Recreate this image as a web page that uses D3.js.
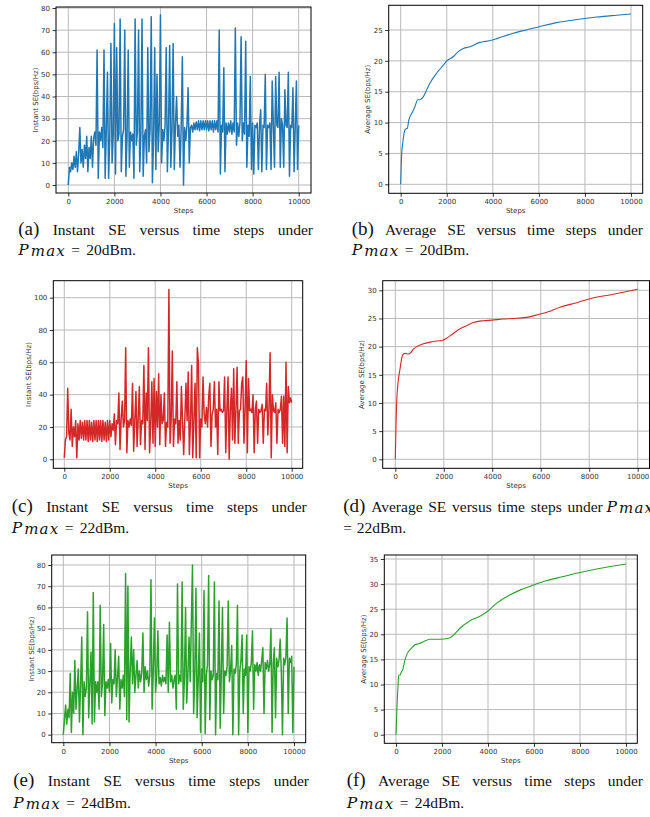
<!DOCTYPE html>
<html>
<head>
<meta charset="utf-8">
<script src="https://cdn.jsdelivr.net/npm/d3@7"></script>
<style>
  body { margin: 0; background: #fff; }
  .tick text { font-family: "DejaVu Sans", sans-serif; font-size: 7px; fill: #333; }
  .axis-label { font-family: "DejaVu Sans", sans-serif; font-size: 7px; fill: #333; }
  .cap { font-family: "Liberation Serif", "Times New Roman", serif; fill: #111; }
  .math { font-family: "DejaVu Serif", serif; font-style: italic; fill: #111; }
</style>
</head>
<body>
<svg id="fig" width="650" height="817"></svg>
<script>
// ---------------- data ----------------
// instant SE, one value every 50 steps, rows of 500 steps
const sampleEvery = 50;
const instantA = [
  0, 8, 6, 10, 7, 13, 8, 15, 6, 14,
  26, 10, 16, 8, 18, 12, 22, 6, 17, 12,
  22, 8, 21, 24, 18, 61, 3, 24, 20, 26,
  17, 61, 3, 25, 51, 3, 22, 64, 10, 23,
  73, 5, 62, 20, 23, 75, 6, 22, 25, 70,
  4, 22, 61, 8, 24, 20, 23, 3, 75, 18,
  24, 70, 6, 23, 75, 4, 22, 25, 10, 62,
  15, 25, 76, 1, 20, 62, 7, 50, 15, 28,
  77, 10, 25, 20, 27, 62, 6, 26, 63, 8,
  25, 64, 7, 27, 40, 22, 27, 8, 26, 58,
  0, 26, 20, 27, 44, 10, 26, 27, 24, 28,
  25, 28.5, 25, 29, 24.5, 29, 25, 29, 25, 29,
  25, 29, 24.5, 29, 25, 29, 24, 29, 25, 29,
  24, 70, 5, 27, 24, 53, 6, 28, 23, 28,
  24, 29, 23, 28, 24, 71, 18, 28, 22, 28,
  67, 20, 28, 23, 65, 8, 27, 22, 49, 7,
  28, 5, 27, 26, 28, 7, 27, 34, 6, 27,
  26, 50, 7, 27, 26, 28, 7, 47, 27, 8,
  49, 27, 26, 51, 8, 30, 27, 8, 43, 27,
  26, 51, 4, 27, 26, 44, 6, 27, 47, 7,
  27
];
const instantC = [
  1, 12, 14, 44, 16, 12, 31, 8, 20, 14,
  24, 1, 22, 12, 24, 13, 23, 12, 24, 12,
  24, 11, 24, 12, 23, 11, 24, 12, 24, 11,
  24, 12, 24, 11, 24, 12, 23, 11, 24, 12,
  24, 14, 22, 18, 28, 9, 24, 22, 41, 6,
  25, 36, 20, 24, 69, 4, 24, 20, 25, 21,
  47, 5, 24, 42, 8, 25, 45, 9, 24, 22,
  58, 6, 41, 24, 69, 4, 22, 48, 10, 50,
  8, 42, 20, 53, 9, 40, 22, 24, 41, 8,
  23, 20, 105, 10, 24, 67, 8, 25, 22, 48,
  10, 24, 12, 45, 24, 3, 25, 47, 24, 54,
  3, 24, 58, 1, 25, 47, 1, 69, 59, 1,
  25, 20, 51, 28, 22, 32, 20, 39, 47, 8,
  28, 31, 48, 20, 31, 3, 48, 30, 31, 29,
  30, 51, 4, 31, 51, 0, 30, 44, 12, 56,
  10, 31, 57, 10, 30, 31, 47, 51, 10, 31,
  61, 4, 50, 30, 31, 29, 40, 4, 31, 36,
  10, 31, 29, 30, 34, 10, 31, 30, 47, 15,
  31, 66, 1, 40, 30, 29, 35, 10, 31, 29,
  31, 39, 10, 39, 8, 60, 4, 45, 35, 38,
  35
];
const instantE = [
  0, 7, 14, 5, 12, 8, 29, 1, 20, 10,
  35, 12, 22, 31, 6, 24, 46, 0, 25, 18,
  22, 58, 8, 24, 39, 5, 67, 6, 25, 20,
  25, 12, 61, 18, 24, 52, 9, 25, 22, 26,
  20, 43, 15, 26, 24, 40, 18, 27, 37, 12,
  26, 22, 28, 18, 76, 7, 70, 6, 30, 46,
  24, 40, 20, 28, 35, 22, 30, 25, 29, 48,
  20, 32, 26, 30, 23, 28, 73, 12, 30, 55,
  20, 28, 49, 24, 27, 23, 28, 25, 27, 24,
  47, 20, 53, 25, 28, 22, 26, 28, 12, 71,
  24, 28, 25, 72, 12, 26, 60, 15, 28, 46,
  25, 53, 80, 10, 28, 69, 8, 26, 48, 1,
  31, 25, 68, 0.5, 28, 33, 75, 7, 30, 26,
  28, 72, 0, 29, 26, 63, 3, 30, 60, 10,
  30, 28, 32, 63, 25, 30, 42, 0, 31, 29,
  33, 61, 0, 30, 35, 47, 10, 31, 28, 47,
  1, 32, 30, 34, 49, 12, 33, 30, 34, 28,
  33, 30, 35, 41, 10, 34, 31, 35, 30, 33,
  50, 1, 34, 41, 8, 36, 32, 35, 45, 30,
  0, 36, 33, 37, 55, 10, 36, 34, 37, 1,
  32
];
const instantSteps = instantA.map((d, i) => i * sampleEvery);

// average SE
const avgStepsB = [0, 43, 87, 145, 200, 290, 350, 480, 620, 740, 840, 985, 1130, 1275, 1560, 1850, 2000, 2290, 2500, 2720, 3010, 3440, 3590, 3880, 4170, 4750, 5320, 5980, 6770, 7640, 8510, 9380, 10000];
const avgB = [0, 5.0, 6.6, 8.3, 8.9, 9.1, 10.4, 11.5, 12.6, 13.7, 13.7, 14.2, 15.3, 16.4, 18.0, 19.3, 20.0, 20.7, 21.5, 22.0, 22.3, 23.0, 23.1, 23.3, 23.6, 24.3, 24.9, 25.5, 26.2, 26.7, 27.1, 27.4, 27.6];
const avgStepsD = [0, 28, 55, 110, 190, 250, 300, 400, 540, 605, 740, 880, 1155, 1430, 1705, 1940, 2120, 2320, 2600, 2940, 3220, 3630, 3975, 4455, 4870, 5420, 5900, 6310, 6795, 7480, 8030, 9000, 10000];
const avgD = [0, 5.8, 9.9, 13.5, 15.9, 17.6, 18.5, 18.8, 18.7, 18.8, 19.5, 20.0, 20.5, 20.8, 21.0, 21.1, 21.5, 22.1, 23.0, 23.7, 24.3, 24.6, 24.7, 24.9, 25.0, 25.2, 25.7, 26.2, 27.0, 27.8, 28.5, 29.3, 30.2];
const avgStepsF = [0, 43, 87, 116, 174, 232, 290, 391, 493, 609, 826, 971, 1188, 1478, 1913, 2275, 2420, 2782, 3217, 3651, 4014, 4376, 4811, 5390, 5970, 6550, 7274, 7998, 8723, 10000];
const avgF = [0, 5.6, 9.6, 11.9, 11.9, 12.5, 12.9, 14.9, 16.2, 16.9, 17.9, 18.1, 18.5, 19.0, 19.0, 19.2, 19.5, 21.2, 22.7, 23.6, 24.7, 26.2, 27.5, 28.8, 29.8, 30.7, 31.5, 32.3, 33.0, 34.0];

// ticks
const xTicks = [0, 2000, 4000, 6000, 8000, 10000];
const yTicksA = [0, 10, 20, 30, 40, 50, 60, 70, 80];
const yTicksB = [0, 5, 10, 15, 20, 25];
const yTicksC = [0, 20, 40, 60, 80, 100];
const yTicksD = [0, 5, 10, 15, 20, 25, 30];
const yTicksE = [0, 10, 20, 30, 40, 50, 60, 70, 80];
const yTicksF = [0, 5, 10, 15, 20, 25, 30, 35];

const blue = "#1f77b4", red = "#d62728", green = "#2ca02c";
const instantLabel = "Instant SE(bps/Hz)";
const avgLabel = "Average SE(bps/Hz)";

// ---------------- layout ----------------
// px: pixel positions of x=0, x=10000, y=0, y=yRef and the axes frame
const panels = [
  { xs: instantSteps, ys: instantA, color: blue, lw: 1.5, yTicks: yTicksA, yRef: 80, ylab: instantLabel,
    px: { x0: 68.3, x10: 298.7, y0: 185, yR: 8, L: 56, R: 311, T: 7, B: 193 }, ylabX: 36 },
  { xs: avgStepsB, ys: avgB, color: blue, lw: 1.1, yTicks: yTicksB, yRef: 25, ylab: avgLabel, smooth: true,
    px: { x0: 400.7, x10: 631, y0: 184.3, yR: 30, L: 388.7, R: 642.7, T: 5.3, B: 193.3 }, ylabX: 368 },
  { xs: instantSteps, ys: instantC, color: red, lw: 1.5, yTicks: yTicksC, yRef: 100, ylab: instantLabel,
    px: { x0: 64.3, x10: 291.7, y0: 459.3, yR: 297.7, L: 53.3, R: 302.7, T: 280.7, B: 468.3 }, ylabX: 29 },
  { xs: avgStepsD, ys: avgD, color: red, lw: 1.1, yTicks: yTicksD, yRef: 30, ylab: avgLabel, smooth: true,
    px: { x0: 395.3, x10: 637.7, y0: 459.3, yR: 290.3, L: 382.7, R: 649.5, T: 280.7, B: 468.3 }, ylabX: 361.7 },
  { xs: instantSteps, ys: instantE, color: green, lw: 1.5, yTicks: yTicksE, yRef: 80, ylab: instantLabel,
    px: { x0: 63.3, x10: 294, y0: 734.7, yR: 565, L: 51.7, R: 305.7, T: 555, B: 742.7 }, ylabX: 31.7 },
  { xs: avgStepsF, ys: avgF, color: green, lw: 1.1, yTicks: yTicksF, yRef: 35, ylab: avgLabel, smooth: true,
    px: { x0: 396, x10: 626, y0: 734.7, yR: 559, L: 384.3, R: 637.3, T: 555, B: 743.3 }, ylabX: 363.3 }
];

const svg = d3.select("#fig");
svg.append("rect").attr("width", 650).attr("height", 817).attr("fill", "#fff");

function drawPanel(p) {
  const g = svg.append("g");
  const q = p.px;
  const x = d3.scaleLinear().domain([0, 10000]).range([q.x0, q.x10]);
  const y = d3.scaleLinear().domain([0, p.yRef]).range([q.y0, q.yR]);

  // grid
  g.append("g").selectAll("line").data(xTicks).join("line")
    .attr("x1", d => x(d)).attr("x2", d => x(d))
    .attr("y1", q.T).attr("y2", q.B)
    .attr("stroke", "#b9b9b9").attr("stroke-width", 1);
  g.append("g").selectAll("line").data(p.yTicks).join("line")
    .attr("x1", q.L).attr("x2", q.R)
    .attr("y1", d => y(d)).attr("y2", d => y(d))
    .attr("stroke", "#b9b9b9").attr("stroke-width", 1);

  // series
  const line = d3.line()
    .x(d => x(d[0]))
    .y(d => y(d[1]));
  if (p.smooth) line.curve(d3.curveMonotoneX);
  g.append("path")
    .datum(p.xs.map((s, i) => [s, p.ys[i]]))
    .attr("d", line)
    .attr("fill", "none")
    .attr("stroke", p.color)
    .attr("stroke-width", p.lw)
    .attr("stroke-linejoin", "round");

  // axes
  const xAxis = g.append("g")
    .attr("transform", `translate(0,${q.B})`)
    .call(d3.axisBottom(x).tickValues(xTicks).tickSize(3.5).tickPadding(2.5).tickFormat(d3.format("d")));
  const yAxis = g.append("g")
    .attr("transform", `translate(${q.L},0)`)
    .call(d3.axisLeft(y).tickValues(p.yTicks).tickSize(3.5).tickPadding(2.5).tickFormat(d3.format("d")));
  [xAxis, yAxis].forEach(a => {
    a.select(".domain").remove();
    a.selectAll(".tick line").attr("stroke", "#000").attr("stroke-width", 0.8);
    a.attr("font-size", null).attr("font-family", null);
  });

  // frame
  g.append("rect")
    .attr("x", q.L).attr("y", q.T)
    .attr("width", q.R - q.L).attr("height", q.B - q.T)
    .attr("fill", "none").attr("stroke", "#000").attr("stroke-width", 1);

  g.append("text").attr("class", "axis-label")
    .attr("x", (q.L + q.R) / 2).attr("y", q.B + 20)
    .attr("text-anchor", "middle").text("Steps");
  g.append("text").attr("class", "axis-label")
    .attr("transform", `translate(${p.ylabX},${(q.T + q.B) / 2}) rotate(-90)`)
    .attr("dy", "0.35em")
    .attr("text-anchor", "middle").text(p.ylab);
}

panels.forEach(drawPanel);

// ---------------- captions ----------------
const instantWords = ["Instant", "SE", "versus", "time", "steps", "under"];
const avgWords = ["Average", "SE", "versus", "time", "steps", "under"];
const captions = [
  { label: "(a)", words: instantWords, x0: 18.3, x1: 313, y1: 235, y2: 255, p: "20dBm." },
  { label: "(b)", words: avgWords, x0: 351.7, x1: 643, y1: 235, y2: 255, p: "20dBm." },
  { label: "(c)", words: instantWords, x0: 11.7, x1: 306.7, y1: 511.7, y2: 533.3, p: "22dBm." },
  { label: "(d)", words: avgWords, x0: 343.3, x1: 602.7, y1: 512.3, y2: 533.3, p: "22dBm.", pmaxFirst: 606.5 },
  { label: "(e)", words: instantWords, x0: 13.3, x1: 309, y1: 786, y2: 807.7, p: "24dBm." },
  { label: "(f)", words: avgWords, x0: 346.7, x1: 643, y1: 786, y2: 807.7, p: "24dBm." }
];

function pmax(g, x0, y) {
  g.append("text").attr("class", "math").attr("x", x0).attr("y", y)
    .style("font-size", "15.5px").text("P");
  g.append("text").attr("class", "math").attr("x", x0 + 12.5).attr("y", y + 1)
    .style("font-size", "15px")
    .attr("textLength", 34).attr("lengthAdjust", "spacing").text("max");
}

captions.forEach(c => {
  const g = svg.append("g");
  const all = [c.label].concat(c.words);
  const nodes = all.map((w, i) => g.append("text").attr("class", "cap")
    .attr("y", c.y1).style("font-size", i === 0 ? "19px" : "15.5px").text(w));
  const widths = nodes.map(n => n.node().getComputedTextLength());
  const gap = (c.x1 - c.x0 - d3.sum(widths)) / (all.length - 1);
  let x = c.x0;
  nodes.forEach((n, i) => { n.attr("x", x); x += widths[i] + gap; });

  if (c.pmaxFirst) {
    pmax(g, c.pmaxFirst, c.y1);
    g.append("text").attr("class", "cap").attr("x", c.x0).attr("y", c.y2)
      .style("font-size", "15.5px").text("=");
    g.append("text").attr("class", "cap").attr("x", c.x0 + 13.4).attr("y", c.y2)
      .style("font-size", "15.5px").text(c.p);
  } else {
    pmax(g, c.x0, c.y2);
    g.append("text").attr("class", "cap").attr("x", c.x0 + 53).attr("y", c.y2)
      .style("font-size", "15.5px").text("=");
    g.append("text").attr("class", "cap").attr("x", c.x0 + 68).attr("y", c.y2)
      .style("font-size", "15.5px").text(c.p);
  }
});
</script>
</body>
</html>
